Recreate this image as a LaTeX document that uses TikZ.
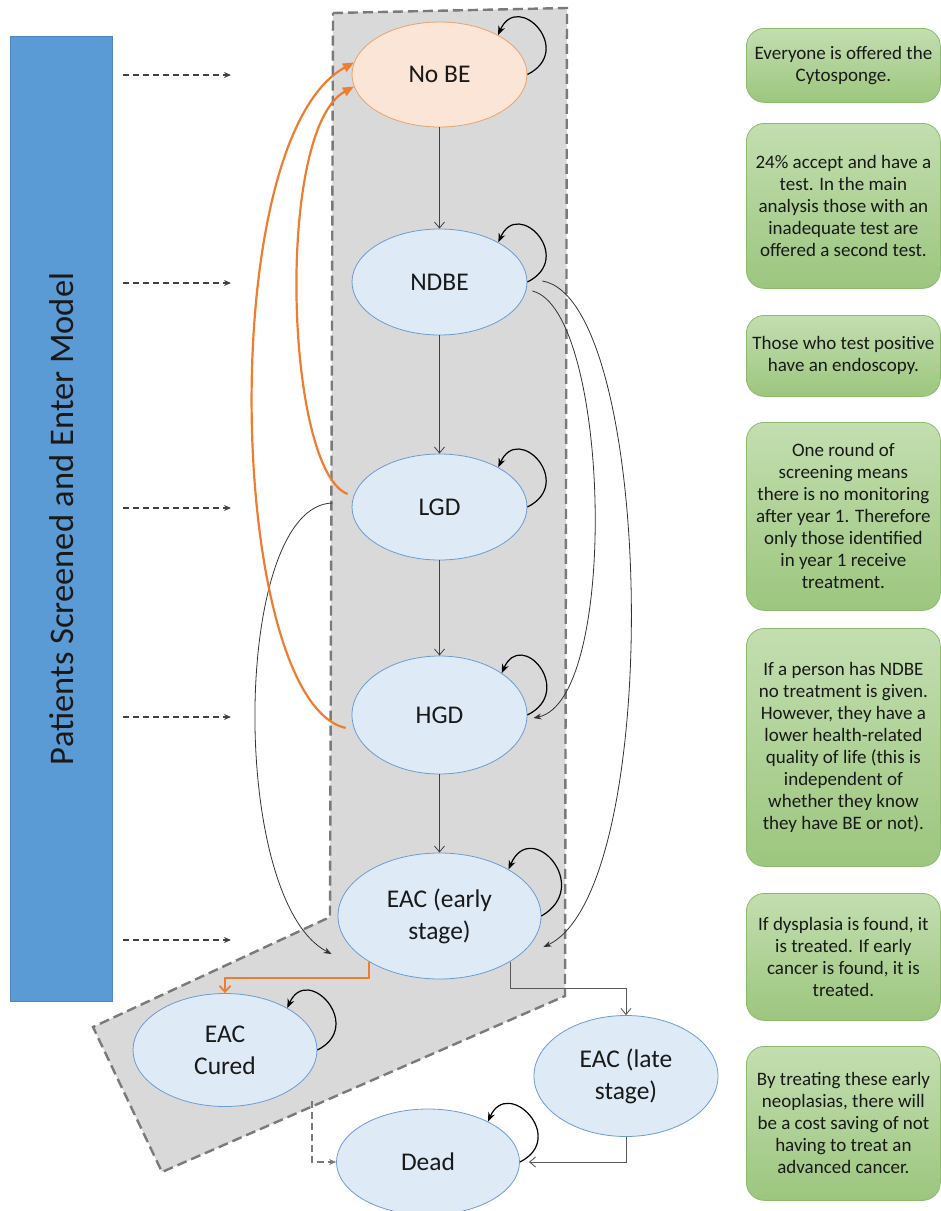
\documentclass[tikz,border=0pt]{standalone}
\usepackage{fontspec}
\setmainfont{Carlito}
\usetikzlibrary{arrows.meta,shapes.geometric,calc}
\definecolor{nodefill}{HTML}{DEEBF7}
\definecolor{nodeline}{HTML}{6C9BD2}
\definecolor{orfill}{HTML}{FBE5D6}
\definecolor{orline}{HTML}{E9A36E}
\definecolor{orarrow}{HTML}{ED7D31}
\definecolor{polyfill}{HTML}{D9D9D9}
\definecolor{polyline}{HTML}{7A7A7A}
\definecolor{barblue}{HTML}{5B9BD5}
\definecolor{barline}{HTML}{4F88C0}
\definecolor{boxtop}{HTML}{C3DEB0}
\definecolor{boxbot}{HTML}{9CC67E}
\definecolor{boxline}{HTML}{8CBB6C}
\begin{document}
\begin{tikzpicture}[x=1pt,y=-1pt,
  state/.style={ellipse, draw=nodeline, fill=nodefill, line width=0.8pt, inner sep=0pt, align=center, text=black!90, font=\fontsize{25.5}{32}\selectfont},
  note/.style={rounded corners=18pt, draw=boxline, line width=0.8pt, top color=boxtop, bottom color=boxbot, minimum width=194pt, inner sep=0pt, align=center, anchor=north west, text=black!90, font=\fontsize{19}{22}\selectfont},
  flow/.style={draw=black!75, line width=0.8pt, -{Straight Barb[length=6pt,width=10pt]}},
  selfloop/.style={draw=black, line width=1.2pt, -{Stealth[length=9pt,width=7pt]}},
  jump/.style={draw=black!80, line width=0.8pt, -{Stealth[length=8pt,width=6pt]}},
  back/.style={draw=orarrow, line width=2.2pt, -{Triangle[length=11pt,width=9pt]}},
  cure/.style={draw=orarrow, line width=1.8pt, -{Straight Barb[length=6pt,width=11pt]}},
  entry/.style={draw=black!75, line width=1.2pt, dash pattern=on 6pt off 4pt, -{Stealth[length=7pt,width=6pt]}},
  exitdash/.style={draw=polyline, line width=1.6pt, dash pattern=on 7pt off 4pt, -{Stealth[length=7pt,width=6pt]}},
  grayflow/.style={draw=black!65, line width=0.9pt, -{Straight Barb[length=6pt,width=10pt]}}
]
\useasboundingbox (0,0) rectangle (941,1211);

% grey region
\draw[fill=polyfill, draw=polyline, line width=2.4pt, dash pattern=on 10pt off 5pt]
  (333,13) -- (567,8) -- (565,996) -- (162,1172) -- (93,1027) -- (330,917) -- cycle;

% left bar
\node[draw=barline, fill=barblue, line width=0.8pt, minimum width=102pt, minimum height=965pt, anchor=north west, inner sep=0pt] (pat) at (10,36) {};
\node[rotate=90, text=black!90, font=\fontsize{34.5}{40}\selectfont] (pattext) at (pat.center) {Patients Screened and Enter Model};

% entry arrows
\foreach \yy [count=\i] in {75,283,508,717,940} {
  \coordinate (es\i) at (123,\yy);
  \coordinate (ee\i) at (231,\yy);
  \draw[entry] (es\i) -- (ee\i);
}

% states
\node[state, draw=orline, fill=orfill, minimum width=175pt, minimum height=105pt] (nobe) at (439.5,74.5) {No BE};
\node[state, minimum width=175pt, minimum height=106pt] (ndbe) at (439.5,282) {NDBE};
\node[state, minimum width=175pt, minimum height=106pt] (lgd) at (439.5,507) {LGD};
\node[state, minimum width=175pt, minimum height=118pt] (hgd) at (439.5,715) {HGD};
\node[state, minimum width=203pt, minimum height=126pt] (eace) at (439.5,916) {EAC (early\\stage)};
\node[state, minimum width=184pt, minimum height=113pt] (cured) at (225,1050) {EAC\\Cured};
\node[state, minimum width=184pt, minimum height=121pt] (late) at (626,1076) {EAC (late\\stage)};
\node[state, minimum width=183pt, minimum height=106pt] (dead) at (428,1162) {Dead};

% vertical flow
\draw[flow] (nobe.south) -- (ndbe.north);
\draw[flow] (ndbe.south) -- (lgd.north);
\draw[flow] (lgd.south) -- (hgd.north);
\draw[flow] (hgd.south) -- (eace.north);

% self loops
\foreach \n in {nobe,ndbe,lgd,hgd,cured,dead} {
  \draw[selfloop] (\n.east) .. controls +(48,-24) and +(20,-45) .. (\n.34);
}
\draw[selfloop] (eace.east) .. controls +(52,-30) and +(22,-52) .. (eace.34);

% jumps
\draw[jump] ($(ndbe.east)+(5,9)$) .. controls (610,310) and (620,700) .. ($(hgd.east)+(6,3)$);
\draw[jump] ($(ndbe.east)+(15,-1)$) .. controls (655,300) and (665,890) .. ($(eace.east)+(2,31)$);
\draw[jump] ($(lgd.west)+(-19,-4)$) .. controls (232,505) and (228,900) .. ($(eace.west)+(-6,38)$);

% back to No BE
\draw[back] ($(lgd.west)+(-4,-13)$) .. controls (285,470) and (275,130) .. (nobe.188);
\draw[back] ($(hgd.west)+(-6,13)$) .. controls (228,700) and (213,140) .. (nobe.172);

% early stage outcomes
\draw[cure] (eace.213) -- ++(0,16) -| (cured.north);
\draw[grayflow] (eace.-33) -- ++(0,27) -| (late.north);
\draw[grayflow, shorten >=9pt] (late.south) |- (dead.east);
\coordinate (cd) at (312,1101);
\draw[exitdash] (cd) |- (dead.west);

% notes
\node[note, minimum height=74pt] (n1) at (746,28) {Everyone is offered the\\Cytosponge.};
\node[note, minimum height=165pt] (n2) at (746,123) {24\% accept and have a\\test. In the main\\analysis those with an\\inadequate test are\\offered a second test.};
\node[note, minimum height=81pt] (n3) at (746,315) {Those who test positive\\have an endoscopy.};
\node[note, minimum height=188pt] (n4) at (746,422) {One round of\\screening means\\there is no monitoring\\after year 1. Therefore\\only those identified\\in year 1 receive\\treatment.};
\node[note, minimum height=238pt] (n5) at (746,628) {If a person has NDBE\\no treatment is given.\\However, they have a\\lower health-related\\quality of life (this is\\independent of\\whether they know\\they have BE or not).};
\node[note, minimum height=127pt] (n6) at (746,893) {If dysplasia is found, it\\is treated. If early\\cancer is found, it is\\treated.};
\node[note, minimum height=154pt] (n7) at (746,1046) {By treating these early\\neoplasias, there will\\be a cost saving of not\\having to treat an\\advanced cancer.};
\end{tikzpicture}
\end{document}
